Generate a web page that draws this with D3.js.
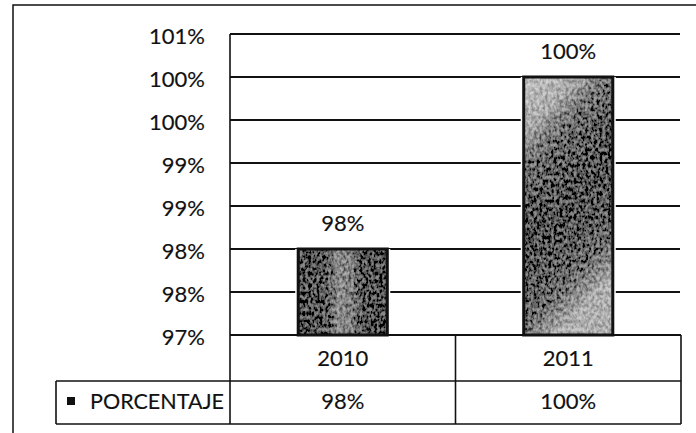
<!DOCTYPE html>
<html>
<head>
<meta charset="utf-8">
<script src="https://cdn.jsdelivr.net/npm/d3@7/dist/d3.min.js"></script>
<style>
  html, body { margin: 0; padding: 0; background: #fff; }
  svg { display: block; }
  text { font-family: Lato, "Open Sans", sans-serif; fill: #111; stroke: #111; stroke-width: 0.15px; }
</style>
</head>
<body>
<svg id="chart" width="696" height="433"></svg>
<script>
// ---- data ----
const categories = ["2010", "2011"];
const values = [98, 100];
const valueLabels = ["98%", "100%"];
const seriesName = "PORCENTAJE";
const tickValues = [97, 97.5, 98, 98.5, 99, 99.5, 100, 100.5];
const tickLabels = ["97%", "98%", "98%", "99%", "99%", "100%", "100%", "101%"];

// ---- layout ----
const plot = { left: 230, right: 681, top: 34, bottom: 335 };
const table = { rowMid: 381, bottom: 424, legendLeft: 56 };
const fontSize = 22;

const svg = d3.select("#chart");
const defs = svg.append("defs");

// scanned-texture look for bars
const f = defs.append("filter").attr("id", "grain")
  .attr("x", 0).attr("y", 0).attr("width", 1).attr("height", 1);
f.append("feTurbulence").attr("type", "fractalNoise")
  .attr("baseFrequency", "0.35 0.25").attr("numOctaves", 2).attr("seed", 5).attr("result", "noise");
f.append("feColorMatrix").attr("in", "noise").attr("type", "matrix")
  .attr("values", "2.2 0 0 0 -0.6  2.2 0 0 0 -0.6  2.2 0 0 0 -0.6  0 0 0 0 1")
  .attr("result", "gray");
f.append("feComposite").attr("in", "gray").attr("in2", "SourceGraphic").attr("operator", "arithmetic")
  .attr("k1", 0).attr("k2", 0.35).attr("k3", 0.75).attr("k4", -0.1).attr("result", "mix");
f.append("feComposite").attr("in", "mix").attr("in2", "SourceAlpha").attr("operator", "in");

// shading of each bar (style only)
const g0 = defs.append("linearGradient").attr("id", "shade0").attr("x1", 0).attr("x2", 1).attr("y1", 0).attr("y2", 0);
[[0, "#0a0a0a"], [0.28, "#222"], [0.45, "#8a8a8a"], [0.6, "#777"], [0.75, "#1a1a1a"], [1, "#0a0a0a"]]
  .forEach(([o, c]) => g0.append("stop").attr("offset", o).attr("stop-color", c));
const g1 = defs.append("linearGradient").attr("id", "shade1").attr("x1", 0).attr("x2", 0.35).attr("y1", 0).attr("y2", 1);
[[0, "#d0d0d0"], [0.2, "#b0b0b0"], [0.27, "#777"], [0.4, "#444"], [0.6, "#1a1a1a"], [0.85, "#555"], [1, "#b5b5b5"]]
  .forEach(([o, c]) => g1.append("stop").attr("offset", o).attr("stop-color", c));

// outer border
svg.append("rect").attr("x", 13).attr("y", 5).attr("width", 720).attr("height", 460)
  .attr("fill", "none").attr("stroke", "#111").attr("stroke-width", 1.5);

// scales
const y = d3.scaleLinear().domain([d3.min(tickValues), d3.max(tickValues)])
  .range([plot.bottom, plot.top]);
const x = d3.scaleBand().domain(categories).range([plot.left, plot.right]).padding(0);
const barW = x.bandwidth() * 0.395;

// gridlines
svg.append("g").selectAll("line").data(tickValues).join("line")
  .attr("x1", plot.left).attr("x2", plot.right - 1)
  .attr("y1", d => y(d)).attr("y2", d => y(d))
  .attr("stroke", "#111").attr("stroke-width", 1.9);

// y axis tick labels
const yAxis = d3.axisLeft(y).tickValues(tickValues)
  .tickFormat((d, i) => tickLabels[i]).tickSize(0).tickPadding(25);
const yg = svg.append("g").attr("transform", `translate(${plot.left},0)`).call(yAxis);
yg.select(".domain").remove();
yg.selectAll("text").attr("font-size", fontSize).attr("font-family", "Lato, 'Open Sans', sans-serif")
  .attr("fill", "#111").attr("dy", "0.45em");

// bars
const bars = svg.append("g");
categories.forEach((c, i) => {
  const bx = x(c) + (x.bandwidth() - barW) / 2;
  const by = y(values[i]);
  const bh = y(d3.min(tickValues)) - by;
  bars.append("rect").attr("x", bx - 3).attr("y", by).attr("width", barW + 6).attr("height", bh)
    .attr("fill", "#fff");
  bars.append("rect").attr("x", bx).attr("y", by).attr("width", barW).attr("height", bh)
    .attr("fill", `url(#shade${i})`).attr("filter", "url(#grain)");
  bars.append("rect").attr("x", bx).attr("y", by).attr("width", barW).attr("height", bh)
    .attr("fill", "none").attr("stroke", "#111").attr("stroke-width", 3);
  svg.append("text").attr("x", bx + barW / 2).attr("y", by - 18)
    .attr("text-anchor", "middle").attr("font-size", fontSize).text(valueLabels[i]);
});

// data table
const tl = svg.append("g").attr("stroke", "#111").attr("stroke-width", 1.6).attr("fill", "none");
tl.append("line").attr("x1", plot.left).attr("x2", plot.right).attr("y1", plot.bottom).attr("y2", plot.bottom).attr("stroke-width", 2);
tl.append("line").attr("x1", plot.left).attr("x2", plot.left).attr("y1", plot.top).attr("y2", table.bottom);
tl.append("line").attr("x1", table.legendLeft).attr("x2", plot.right).attr("y1", table.rowMid).attr("y2", table.rowMid);
tl.append("line").attr("x1", table.legendLeft).attr("x2", plot.right).attr("y1", table.bottom).attr("y2", table.bottom);
tl.append("line").attr("x1", table.legendLeft).attr("x2", table.legendLeft).attr("y1", table.rowMid).attr("y2", table.bottom);
tl.append("line").attr("x1", plot.right).attr("x2", plot.right).attr("y1", plot.bottom).attr("y2", table.bottom);
categories.slice(1).forEach(c => {
  tl.append("line").attr("x1", x(c)).attr("x2", x(c)).attr("y1", plot.bottom).attr("y2", table.bottom);
});

// category row and value row
categories.forEach((c, i) => {
  const cx = x(c) + x.bandwidth() / 2;
  svg.append("text").attr("x", cx).attr("y", (plot.bottom + table.rowMid) / 2 + 2)
    .attr("text-anchor", "middle").attr("dominant-baseline", "middle")
    .attr("font-size", fontSize).text(c);
  svg.append("text").attr("x", cx).attr("y", (table.rowMid + table.bottom) / 2 + 1)
    .attr("text-anchor", "middle").attr("dominant-baseline", "middle")
    .attr("font-size", fontSize).text(valueLabels[i]);
});

// legend key
svg.append("rect").attr("x", 67).attr("y", 397).attr("width", 8).attr("height", 8).attr("fill", "#111");
svg.append("text").attr("x", 90).attr("y", (table.rowMid + table.bottom) / 2 + 1)
  .attr("dominant-baseline", "middle").attr("font-size", fontSize)
  .attr("textLength", 134).attr("lengthAdjust", "spacingAndGlyphs").text(seriesName);
</script>
</body>
</html>
